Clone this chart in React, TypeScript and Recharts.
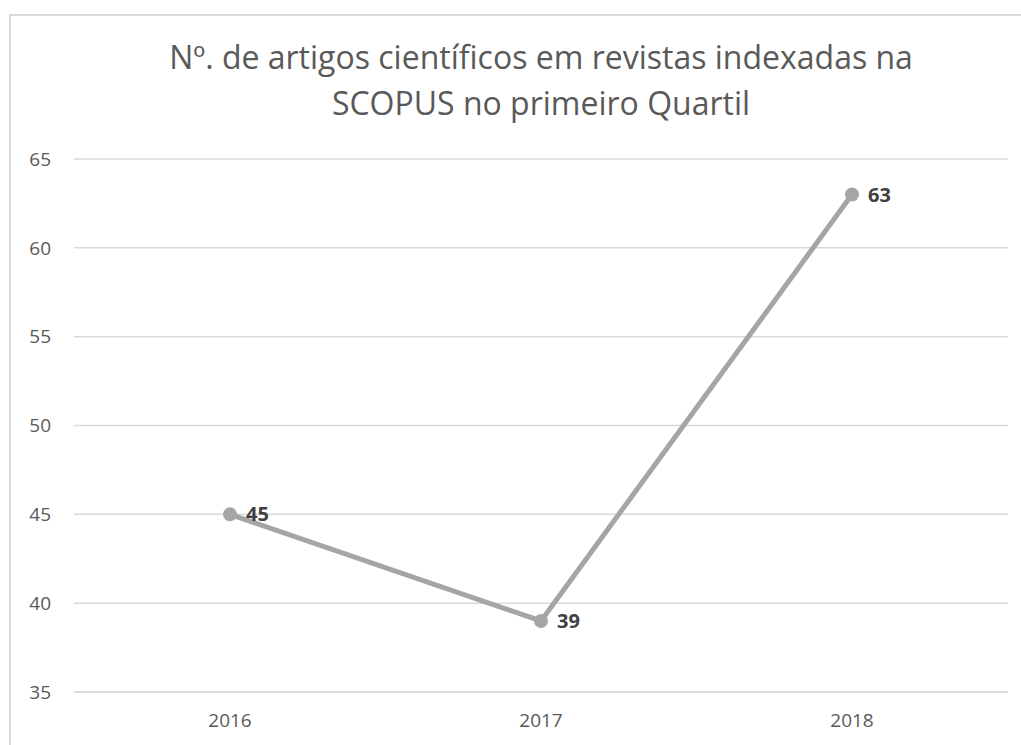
import { LineChart, Line, XAxis, YAxis, CartesianGrid, LabelList } from "recharts";

const years = ["2016", "2017", "2018"];
const articles = [45, 39, 63];
const yTicks = [35, 40, 45, 50, 55, 60, 65];

const data = years.map((year, i) => ({ year, articles: articles[i] }));

const font = "'Open Sans', 'Noto Sans', sans-serif";

export default function App() {
  return (
    <div style={{ position: "absolute", left: 0, top: 0, width: 1021, height: 745, background: "#fff", overflow: "hidden", fontFamily: font }}>
      <div
        style={{
          position: "absolute",
          left: 9,
          top: 14,
          width: 1030,
          height: 760,
          borderLeft: "2px solid #d9d9d9",
          borderTop: "2px solid #d9d9d9",
        }}
      />
      <div
        style={{
          position: "absolute",
          left: 0,
          top: 34,
          width: 1082,
          textAlign: "center",
          fontSize: 32,
          lineHeight: "46px",
          color: "#595959",
        }}
      >
        Nº. de artigos científicos em revistas indexadas na
        <br />
        SCOPUS no primeiro Quartil
      </div>
      <div style={{ position: "absolute", left: 0, top: 0 }}>
        <LineChart width={1021} height={745} data={data} margin={{ top: 159, right: 13, bottom: 23, left: 0 }}>
          <CartesianGrid vertical={false} stroke="#d9d9d9" strokeWidth={1.5} />
          <XAxis
            dataKey="year"
            height={30}
            padding={{ left: 156, right: 156 }}
            axisLine={{ stroke: "#d9d9d9", strokeWidth: 1.5 }}
            tickLine={false}
            tickSize={0}
            tickMargin={22}
            tick={{ fill: "#595959", fontSize: 19, fontFamily: font }}
          />
          <YAxis
            width={74}
            domain={[35, 65]}
            ticks={yTicks}
            axisLine={false}
            tickLine={false}
            tickSize={0}
            tickMargin={23}
            tick={{ fill: "#595959", fontSize: 19, fontFamily: font }}
          />
          <Line
            type="linear"
            dataKey="articles"
            stroke="#a5a5a5"
            strokeWidth={5}
            dot={{ r: 7, fill: "#a5a5a5", stroke: "#a5a5a5", strokeWidth: 0 }}
            isAnimationActive={false}
          >
            <LabelList
              dataKey="articles"
              position="right"
              offset={16}
              style={{ fill: "#404040", fontSize: 20, fontWeight: 700, fontFamily: font }}
            />
          </Line>
        </LineChart>
      </div>
    </div>
  );
}
